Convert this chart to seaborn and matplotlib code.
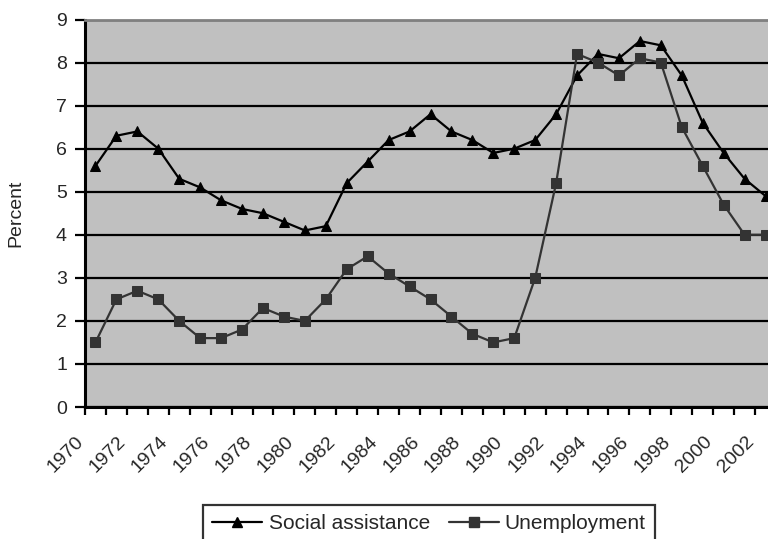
import numpy as np
import pandas as pd
import matplotlib
matplotlib.use("Agg")
import matplotlib.pyplot as plt
from matplotlib.transforms import ScaledTranslation
from matplotlib.lines import Line2D
import seaborn as sns

years = list(range(1970, 2003))
social_assistance = [5.6, 6.3, 6.4, 6.0, 5.3, 5.1, 4.8, 4.6, 4.5, 4.3, 4.1, 4.2, 5.2,
                     5.7, 6.2, 6.4, 6.8, 6.4, 6.2, 5.9, 6.0, 6.2, 6.8, 7.7, 8.2, 8.1,
                     8.5, 8.4, 7.7, 6.6, 5.9, 5.3, 4.9]
unemployment = [1.5, 2.5, 2.7, 2.5, 2.0, 1.6, 1.6, 1.8, 2.3, 2.1, 2.0, 2.5, 3.2,
                3.5, 3.1, 2.8, 2.5, 2.1, 1.7, 1.5, 1.6, 3.0, 5.2, 8.2, 8.0, 7.7,
                8.1, 8.0, 6.5, 5.6, 4.7, 4.0, 4.0]
series_names = ["Social assistance", "Unemployment"]
series_colors = ["#000000", "#333333"]
series_markers = ["^", "s"]
y_ticks = list(range(0, 10))

sns.set_theme(style="white")
plt.rcParams["font.family"] = ["Liberation Sans", "DejaVu Sans"]

df = pd.DataFrame({
    "pos": list(range(len(years))) * 2,
    "value": social_assistance + unemployment,
    "series": [series_names[0]] * len(years) + [series_names[1]] * len(years),
})

fig = plt.figure(figsize=(7.68, 5.39), dpi=100)
ax = fig.add_axes([85 / 768, 1 - 407 / 539, 691 / 768, 387.5 / 539])
ax.set_facecolor("#C0C0C0")

sns.lineplot(data=df, x="pos", y="value", hue="series", style="series",
             palette=series_colors, markers=series_markers, dashes=False,
             linewidth=1.6, markersize=7, ax=ax, legend=False, zorder=3)
for line, c in zip(ax.lines, series_colors):
    line.set_markeredgecolor(c)
    line.set_markerfacecolor(c)

n = len(years)
ax.set_xlim(-0.5, n - 0.5)
ax.set_ylim(0, 9)

# horizontal gridlines
ax.set_yticks(y_ticks)
ax.yaxis.grid(True, color="black", linewidth=1.6, zorder=1)
ax.set_axisbelow(True)
ax.tick_params(axis="y", which="major", left=True, length=7, width=1.6,
               color="black", labelsize=14, pad=6, direction="out")

# category boundary ticks, year labels at category centres
ax.set_xticks(np.arange(-0.5, n, 1.0))
ax.set_xticklabels([])
ax.tick_params(axis="x", which="major", bottom=True, length=6, width=1.6,
               color="black", direction="out")
label_pos = list(range(0, n, 2))
ax.set_xticks(label_pos, minor=True)
ax.set_xticklabels([str(years[i]) for i in label_pos], minor=True,
                   rotation=45, ha="right", va="top")
ax.tick_params(axis="x", which="minor", length=0, labelsize=14, pad=19)
shift = ScaledTranslation(-8 / 100, 0, fig.dpi_scale_trans)
for lab in ax.get_xticklabels(minor=True):
    lab.set_transform(lab.get_transform() + shift)

ax.set_xlabel("")
ax.set_ylabel("")
fig.text(16 / 768, 1 - 213 / 539, "Percent", rotation=90, ha="center",
         va="center", fontsize=14)

for side in ["left", "bottom"]:
    ax.spines[side].set_color("black")
    ax.spines[side].set_linewidth(2.2)
ax.spines["top"].set_color("#808080")
ax.spines["top"].set_linewidth(2)
ax.spines["right"].set_visible(False)

handles = [Line2D([], [], color=c, marker=m, markersize=7, linewidth=1.6,
                  markerfacecolor=c, markeredgecolor=c)
           for c, m in zip(series_colors, series_markers)]
leg = fig.legend(handles, series_names, loc="upper left",
                 bbox_to_anchor=(203 / 768, 1 - 505 / 539), ncol=2,
                 frameon=True, fancybox=False, shadow=False, fontsize=15,
                 handlelength=2.4, handletextpad=0.3, columnspacing=0.9,
                 borderpad=0.45, borderaxespad=0)
leg.get_frame().set_edgecolor("black")
leg.get_frame().set_linewidth(1.6)
leg.get_frame().set_facecolor("white")

fig.savefig("out.png", dpi=100)
